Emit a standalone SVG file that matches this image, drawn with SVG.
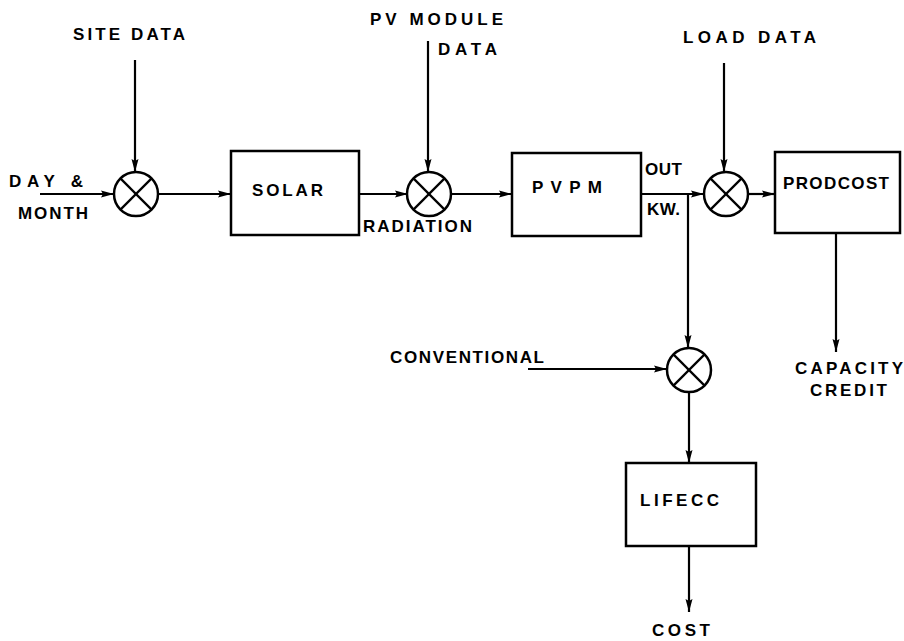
<svg xmlns="http://www.w3.org/2000/svg" width="904" height="641" viewBox="0 0 904 641">
<style>
.bg{fill:#fff}
.box{fill:none;stroke:#000;stroke-width:2.5}
.sum{fill:#fff;stroke:#000;stroke-width:2.5}
.x{stroke:#000;stroke-width:2.2}
.c{fill:none;stroke:#000;stroke-width:2.2}
text{font-family:"Liberation Sans",Arial,sans-serif;font-weight:bold;font-size:17px;fill:#000}
.lbl{text-anchor:start}
</style>
<defs>
<marker id="ah" markerUnits="userSpaceOnUse" markerWidth="14" markerHeight="8" refX="13" refY="4" orient="auto">
<path d="M0,0.5 L13,4 L0,7.5 L2,4 z" fill="#000"/>
</marker>
</defs>
<rect class="bg" x="0" y="0" width="904" height="641"/>
<g id="connectors">
<line class="c" x1="40" y1="194" x2="114" y2="194" marker-end="url(#ah)"/>
<line class="c" x1="135" y1="60" x2="135" y2="172" marker-end="url(#ah)"/>
<line class="c" x1="158" y1="194" x2="231" y2="194" marker-end="url(#ah)"/>
<line class="c" x1="359" y1="194" x2="408" y2="194" marker-end="url(#ah)"/>
<line class="c" x1="428" y1="41" x2="428" y2="172" marker-end="url(#ah)"/>
<line class="c" x1="451" y1="194" x2="512" y2="194" marker-end="url(#ah)"/>
<line class="c" x1="641" y1="194" x2="704" y2="194" marker-end="url(#ah)"/>
<line class="c" x1="688" y1="194" x2="688" y2="348" marker-end="url(#ah)"/>
<line class="c" x1="724" y1="63" x2="724" y2="172" marker-end="url(#ah)"/>
<line class="c" x1="748" y1="194" x2="775" y2="194" marker-end="url(#ah)"/>
<line class="c" x1="836" y1="234" x2="836" y2="352" marker-end="url(#ah)"/>
<line class="c" x1="528" y1="369" x2="667" y2="369" marker-end="url(#ah)"/>
<line class="c" x1="689" y1="392" x2="689" y2="463" marker-end="url(#ah)"/>
<line class="c" x1="689" y1="546" x2="689" y2="612" marker-end="url(#ah)"/>
</g>
<g id="sum1">
<circle class="sum" cx="136" cy="194" r="22"/>
<line class="x" x1="120.4" y1="178.4" x2="151.6" y2="209.6"/>
<line class="x" x1="151.6" y1="178.4" x2="120.4" y2="209.6"/>
</g>
<g id="sum2">
<circle class="sum" cx="429" cy="194" r="22"/>
<line class="x" x1="413.4" y1="178.4" x2="444.6" y2="209.6"/>
<line class="x" x1="444.6" y1="178.4" x2="413.4" y2="209.6"/>
</g>
<g id="sum3">
<circle class="sum" cx="726" cy="194" r="22"/>
<line class="x" x1="710.4" y1="178.4" x2="741.6" y2="209.6"/>
<line class="x" x1="741.6" y1="178.4" x2="710.4" y2="209.6"/>
</g>
<g id="sum4">
<circle class="sum" cx="689" cy="370" r="22"/>
<line class="x" x1="673.4" y1="354.4" x2="704.6" y2="385.6"/>
<line class="x" x1="704.6" y1="354.4" x2="673.4" y2="385.6"/>
</g>
<g id="solar">
<rect class="box" x="231" y="151" width="128" height="84"/>
<text class="lbl" x="252" y="196" textLength="71" lengthAdjust="spacing">SOLAR</text>
</g>
<g id="pvpm">
<rect class="box" x="512" y="153" width="129" height="83"/>
<text class="lbl" x="532" y="193" textLength="70" lengthAdjust="spacing">PVPM</text>
</g>
<g id="prodcost">
<rect class="box" x="775" y="152" width="125" height="81"/>
<text class="lbl" x="783" y="189" textLength="106" lengthAdjust="spacing">PRODCOST</text>
</g>
<g id="lifecc">
<rect class="box" x="626" y="463" width="130" height="83"/>
<text class="lbl" x="640" y="506" textLength="79" lengthAdjust="spacing">LIFECC</text>
</g>
<g id="labels">
<text class="lbl" x="73" y="40" textLength="112" lengthAdjust="spacing">SITE DATA</text>
<text class="lbl" x="370" y="25" textLength="133" lengthAdjust="spacing">PV MODULE</text>
<text class="lbl" x="438" y="55" textLength="59" lengthAdjust="spacing">DATA</text>
<text class="lbl" x="683" y="43" textLength="133" lengthAdjust="spacing">LOAD DATA</text>
<text class="lbl" x="9" y="187" textLength="74" lengthAdjust="spacing">DAY &amp;</text>
<text class="lbl" x="18" y="219" textLength="70" lengthAdjust="spacing">MONTH</text>
<text class="lbl" x="363" y="232" textLength="109" lengthAdjust="spacing">RADIATION</text>
<text class="lbl" x="645" y="175" textLength="37" lengthAdjust="spacing">OUT</text>
<text class="lbl" x="647" y="215" textLength="33" lengthAdjust="spacing">KW.</text>
<text class="lbl" x="390" y="363" textLength="154" lengthAdjust="spacing">CONVENTIONAL</text>
<text class="lbl" x="795" y="374" textLength="108" lengthAdjust="spacing">CAPACITY</text>
<text class="lbl" x="810" y="396" textLength="77" lengthAdjust="spacing">CREDIT</text>
<text class="lbl" x="652" y="636" textLength="58" lengthAdjust="spacing">COST</text>
</g>
</svg>
